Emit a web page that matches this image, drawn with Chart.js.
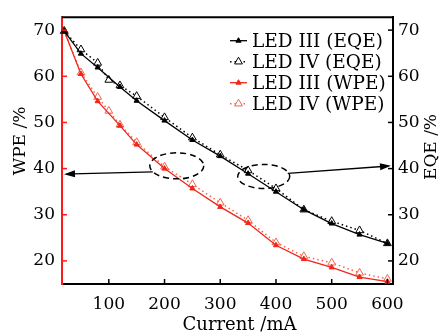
<!DOCTYPE html>
<html>
<head>
<meta charset="utf-8">
<script src="https://cdn.jsdelivr.net/npm/chart.js@4.4.1/dist/chart.umd.min.js"></script>
<style>
    html, body { margin: 0; padding: 0; background: #fff; }
    #wrap { width: 444px; height: 336px; }
</style>
</head>
<body>
<div id="wrap"><canvas id="effChart" width="444" height="336"></canvas></div>
<script>
// Ток (мА) для двух светодиодов
const currentIII = [20, 50, 80, 120, 150, 200, 250, 300, 350, 400, 450, 500, 550, 600];
const currentIV = [20, 50, 80, 100, 120, 150, 200, 250, 300, 350, 400, 450, 500, 550, 600];

// EQE и WPE, %
const eqeIII = [69.8, 64.9, 61.9, 57.7, 54.7, 50.4, 46.2, 42.7, 38.9, 35.0, 31.1, 28.1, 25.7, 23.8];
const eqeIV = [69.8, 65.8, 62.9, 59.2, 58.0, 55.7, 51.1, 46.7, 43.0, 39.6, 35.7, 31.1, 28.6, 26.6, 23.8];
const wpeIII = [69.8, 60.5, 54.6, 49.3, 45.2, 40.0, 35.7, 31.7, 28.2, 23.4, 20.4, 18.6, 16.5, 15.5];
const wpeIV = [69.8, 60.8, 55.5, 52.5, 49.5, 45.7, 40.4, 36.6, 32.6, 28.8, 24.0, 21.0, 19.6, 17.4, 16.1];

const seriesLabels = ['LED III (EQE)', 'LED IV (EQE)', 'LED III (WPE)', 'LED IV (WPE)'];
const xTicks = [100, 200, 300, 400, 500, 600];
const yTicks = [20, 30, 40, 50, 60, 70];

const FONT = 'DejaVu Serif';
const RED = '#f0261c';
const RED_LIGHT = '#f2654c';

const toPoints = (xs, ys) => xs.map((x, i) => ({ x: x, y: ys[i] }));

// Стрелки с наконечником
function drawArrow(ctx, x1, y1, x2, y2) {
    const ang = Math.atan2(y2 - y1, x2 - x1);
    const len = 11, w = 3.5;
    ctx.beginPath();
    ctx.moveTo(x1, y1);
    ctx.lineTo(x2 - Math.cos(ang) * len * 0.8, y2 - Math.sin(ang) * len * 0.8);
    ctx.stroke();
    ctx.beginPath();
    ctx.moveTo(x2, y2);
    ctx.lineTo(x2 - Math.cos(ang) * len - Math.sin(ang) * w, y2 - Math.sin(ang) * len + Math.cos(ang) * w);
    ctx.lineTo(x2 - Math.cos(ang) * len + Math.sin(ang) * w, y2 - Math.sin(ang) * len - Math.cos(ang) * w);
    ctx.closePath();
    ctx.fill();
}

// Рамка, внутренние засечки, легенда, эллипсы и стрелки
const decorPlugin = {
    id: 'decor',
    afterDraw(chart) {
        const { ctx, chartArea: a, scales } = chart;
        ctx.save();

        // верхняя рамка
        ctx.strokeStyle = '#000';
        ctx.lineWidth = 2;
        ctx.beginPath();
        ctx.moveTo(a.left, a.top);
        ctx.lineTo(a.right + 1, a.top);
        ctx.stroke();

        // засечки внутрь
        ctx.lineWidth = 1.5;
        xTicks.forEach(v => {
            const px = scales.x.getPixelForValue(v);
            ctx.beginPath(); ctx.moveTo(px, a.bottom); ctx.lineTo(px, a.bottom - 5); ctx.stroke();
        });
        yTicks.forEach(v => {
            const py = scales.y2.getPixelForValue(v);
            ctx.beginPath(); ctx.moveTo(a.right, py); ctx.lineTo(a.right - 5, py); ctx.stroke();
        });
        ctx.strokeStyle = '#ff1a1a';
        yTicks.forEach(v => {
            const py = scales.y.getPixelForValue(v);
            ctx.beginPath(); ctx.moveTo(a.left, py); ctx.lineTo(a.left + 5, py); ctx.stroke();
        });

        // подписи осей
        ctx.fillStyle = '#000';
        ctx.font = '18px "' + FONT + '"';
        ctx.textAlign = 'center';
        ctx.textBaseline = 'middle';
        ctx.fillText('Current /mA', (a.left + a.right) / 2 + 12, 325);
        ctx.font = '17px "' + FONT + '"';
        ctx.save();
        ctx.translate(21, 141);
        ctx.rotate(-Math.PI / 2);
        ctx.fillText('WPE /%', 0, 0);
        ctx.restore();
        ctx.save();
        ctx.translate(432, 147);
        ctx.rotate(-Math.PI / 2);
        ctx.fillText('EQE /%', 0, 0);
        ctx.restore();

        // легенда
        ctx.font = '18.5px "' + FONT + '"';
        ctx.textAlign = 'left';
        chart.data.datasets.forEach((ds, i) => {
            const y = a.top + 23.5 + i * 21;
            const x0 = a.right - 163;
            ctx.save();
            ctx.strokeStyle = ds.borderColor;
            ctx.lineWidth = ds.borderWidth;
            ctx.setLineDash(ds.borderDash || []);
            ctx.beginPath(); ctx.moveTo(x0, y); ctx.lineTo(x0 + 17, y); ctx.stroke();
            ctx.restore();
            ctx.save();
            ctx.strokeStyle = ds.pointBorderColor;
            ctx.fillStyle = ds.pointBackgroundColor;
            ctx.lineWidth = ds.pointBorderWidth;
            Chart.helpers.drawPoint(ctx, { pointStyle: 'triangle', radius: ds.pointRadius, borderWidth: ds.pointBorderWidth }, x0 + 8.5, y);
            ctx.restore();
            ctx.fillStyle = '#000';
            ctx.fillText(ds.label, x0 + 22, y + 1);
        });

        // эллипсы и стрелки
        ctx.strokeStyle = '#000';
        ctx.fillStyle = '#000';
        ctx.lineWidth = 1.5;
        ctx.setLineDash([6, 4]);
        const e1x = scales.x.getPixelForValue(222), e1y = scales.y.getPixelForValue(40.6);
        const e2x = scales.x.getPixelForValue(378), e2y = scales.y.getPixelForValue(38.3);
        ctx.beginPath(); ctx.ellipse(e1x, e1y, 27, 13, 0, 0, Math.PI * 2); ctx.stroke();
        ctx.beginPath(); ctx.ellipse(e2x, e2y, 26, 12, 0, 0, Math.PI * 2); ctx.stroke();
        ctx.setLineDash([]);
        ctx.lineWidth = 1.3;
        drawArrow(ctx, e1x - 24, e1y + 6, a.left + 2, scales.y.getPixelForValue(38.8));
        drawArrow(ctx, e2x + 24, e2y - 3, a.right - 2, scales.y2.getPixelForValue(40.6));

        ctx.restore();
    }
};

const tickFont = { family: FONT, size: 17 };

const effConfig = {
    type: 'line',
    data: {
        datasets: [{
            label: seriesLabels[0],
            data: toPoints(currentIII, eqeIII),
            yAxisID: 'y2',
            borderColor: '#000',
            borderWidth: 1.3,
            pointStyle: 'triangle',
            pointRadius: 3,
            pointBackgroundColor: '#000',
            pointBorderColor: '#000',
            pointBorderWidth: 1
        }, {
            label: seriesLabels[1],
            data: toPoints(currentIV, eqeIV),
            yAxisID: 'y2',
            borderColor: '#000',
            borderWidth: 1.5,
            borderDash: [1.5, 3],
            pointStyle: 'triangle',
            pointRadius: 4.5,
            pointBackgroundColor: '#fff',
            pointBorderColor: '#000',
            pointBorderWidth: 1
        }, {
            label: seriesLabels[2],
            data: toPoints(currentIII, wpeIII),
            yAxisID: 'y',
            borderColor: RED,
            borderWidth: 1.3,
            pointStyle: 'triangle',
            pointRadius: 3,
            pointBackgroundColor: RED,
            pointBorderColor: RED,
            pointBorderWidth: 1
        }, {
            label: seriesLabels[3],
            data: toPoints(currentIV, wpeIV),
            yAxisID: 'y',
            borderColor: RED_LIGHT,
            borderWidth: 1.5,
            borderDash: [1.5, 3],
            pointStyle: 'triangle',
            pointRadius: 4.5,
            pointBackgroundColor: '#fff',
            pointBorderColor: RED_LIGHT,
            pointBorderWidth: 1
        }]
    },
    options: {
        responsive: false,
        animation: false,
        clip: false,
        layout: { padding: { top: 8, left: 0, right: 0, bottom: 0 } },
        plugins: {
            legend: { display: false },
            tooltip: { enabled: false }
        },
        scales: {
            x: {
                type: 'linear',
                min: 16,
                max: 610,
                afterBuildTicks: s => { s.ticks = xTicks.map(v => ({ value: v })); },
                afterFit: s => { s.height = 52; },
                grid: { display: false, drawTicks: false },
                border: { display: true, color: '#000', width: 2 },
                ticks: { color: '#000', font: tickFont, padding: 10, maxRotation: 0 }
            },
            y: {
                position: 'left',
                min: 15,
                max: 72.8,
                afterBuildTicks: s => { s.ticks = yTicks.map(v => ({ value: v })); },
                afterFit: s => { s.width = 62; },
                grid: { display: false, drawTicks: false },
                border: { display: true, color: '#ff1a1a', width: 2 },
                ticks: { color: '#000', font: tickFont, padding: 7 }
            },
            y2: {
                position: 'right',
                min: 15,
                max: 72.8,
                afterBuildTicks: s => { s.ticks = yTicks.map(v => ({ value: v })); },
                afterFit: s => { s.width = 51; },
                grid: { display: false, drawTicks: false },
                border: { display: true, color: '#000', width: 2 },
                ticks: { color: '#000', font: tickFont, padding: 5 }
            }
        }
    },
    plugins: [decorPlugin]
};

window.onload = function() {
    const ctx = document.getElementById('effChart').getContext('2d');
    new Chart(ctx, effConfig);
};
</script>
</body>
</html>
